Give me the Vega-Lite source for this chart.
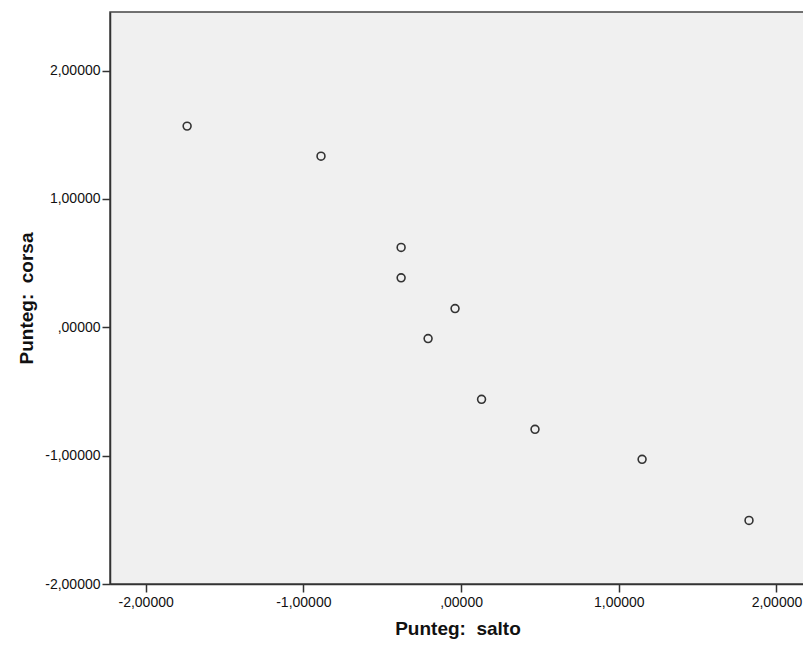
{
  "$schema": "https://vega.github.io/schema/vega-lite/v6.json",
  "autosize": {"type": "none"},
  "padding": {"left": 110, "top": 12, "right": 0, "bottom": 62},
  "width": 695,
  "height": 572,
  "background": "white",
  "config": {
    "view": {"fill": "#f0f0f0", "stroke": "#444444", "strokeWidth": 1.5},
    "axis": {
      "labelFont": "Liberation Sans",
      "labelFontSize": 14,
      "labelColor": "#111111",
      "titleFont": "Liberation Sans",
      "titleFontSize": 19,
      "titleFontWeight": "bold",
      "titleColor": "#111111",
      "domainColor": "#333333",
      "domainWidth": 1.5,
      "tickColor": "#333333",
      "tickWidth": 1.5,
      "tickSize": 8,
      "grid": false
    }
  },
  "data": {
    "values": [
      {"salto": -1.737, "corsa": 1.567},
      {"salto": -0.888, "corsa": 1.333},
      {"salto": -0.380, "corsa": 0.622},
      {"salto": -0.380, "corsa": 0.385},
      {"salto": -0.038, "corsa": 0.146},
      {"salto": -0.209, "corsa": -0.088},
      {"salto": 0.130, "corsa": -0.561},
      {"salto": 0.469, "corsa": -0.795},
      {"salto": 1.148, "corsa": -1.029},
      {"salto": 1.826, "corsa": -1.505}
    ]
  },
  "mark": {"type": "point", "shape": "circle", "filled": false, "stroke": "#333333", "strokeWidth": 1.6, "size": 62, "opacity": 1},
  "encoding": {
    "x": {
      "field": "salto",
      "type": "quantitative",
      "title": "Punteg:\u00a0 salto",
      "scale": {"domain": [-2.226, 2.181], "nice": false, "zero": false},
      "axis": {
        "values": [-2, -1, 0, 1, 2],
        "labelExpr": "datum.value == 0 ? ',00000' : (datum.value < 0 ? '-' : '') + replace(format(abs(datum.value), '.5f'), '.', ',')",
        "labelPadding": 3,
        "titlePadding": 10
      }
    },
    "y": {
      "field": "corsa",
      "type": "quantitative",
      "title": "Punteg:\u00a0 corsa",
      "scale": {"domain": [-2, 2.456], "nice": false, "zero": false},
      "axis": {
        "values": [-2, -1, 0, 1, 2],
        "labelExpr": "datum.value == 0 ? ',00000' : (datum.value < 0 ? '-' : '') + replace(format(abs(datum.value), '.5f'), '.', ',')",
        "labelPadding": 2,
        "titlePadding": 8
      }
    }
  }
}
